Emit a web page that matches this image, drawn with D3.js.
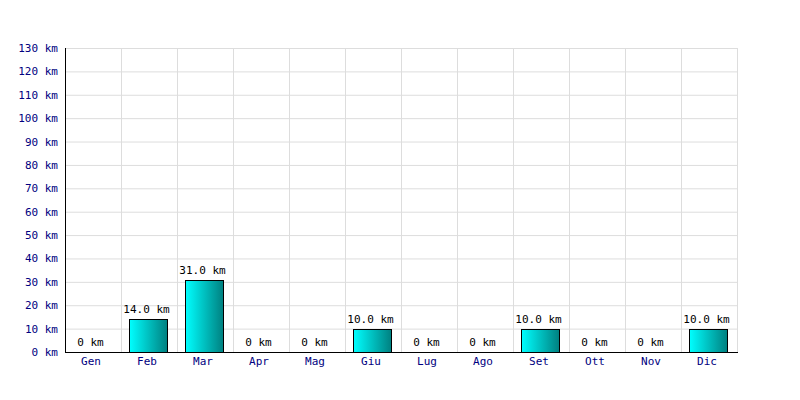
<!DOCTYPE html>
<html><head><meta charset="utf-8">
<script src="https://cdn.jsdelivr.net/npm/d3@7"></script>
<style>body{margin:0;background:#fff}svg{display:block}</style>
</head><body>
<script>
const months = ["Gen","Feb","Mar","Apr","Mag","Giu","Lug","Ago","Set","Ott","Nov","Dic"];
const km = [0,14,31,0,0,10,0,0,10,0,0,10];
const yTicks = [0,10,20,30,40,50,60,70,80,90,100,110,120,130];

const W=800,H=400, L=65, R=737, T=48, B=352;
const svg=d3.select("body").append("svg").attr("width",W).attr("height",H);
const defs=svg.append("defs");
const g=defs.append("linearGradient").attr("id","grad").attr("x1","0").attr("x2","1").attr("y1","0").attr("y2","0");
g.append("stop").attr("offset","0%").attr("stop-color","#00ffff");
g.append("stop").attr("offset","100%").attr("stop-color","#008080");

const x=d3.scaleBand().domain(months).range([L,R]);
const y=d3.scaleLinear().domain([0,130]).range([B,T]);
const font="'DejaVu Sans Mono', monospace";

// grid
svg.append("g").selectAll("line").data(yTicks).join("line")
 .attr("x1",L).attr("x2",R).attr("y1",d=>y(d)+0.5).attr("y2",d=>y(d)+0.5)
 .attr("stroke","#dddddd");
svg.append("g").selectAll("line").data(months).join("line")
 .attr("x1",d=>x(d)+x.bandwidth()+0.5).attr("x2",d=>x(d)+x.bandwidth()+0.5)
 .attr("y1",T).attr("y2",B).attr("stroke","#dddddd");

// bars
const bw=38, off=8;
svg.append("g").selectAll("rect").data(months.map((m,i)=>({m,v:km[i]})).filter(d=>d.v>0)).join("rect")
 .attr("x",d=>x(d.m)+off+0.5).attr("width",bw)
 .attr("y",d=>Math.round(y(d.v))+0.5).attr("height",d=>B-Math.round(y(d.v)))
 .attr("fill","url(#grad)").attr("stroke","#000").attr("stroke-width",1);

// value labels
svg.append("g").selectAll("text").data(months.map((m,i)=>({m,v:km[i]}))).join("text")
 .attr("x",d=>x(d.m)+off+bw/2-1.5).attr("y",d=>y(d.v)-6)
 .attr("text-anchor","middle").attr("font-family",font).attr("font-size",11).attr("fill","#000")
 .text(d=>d.v===0?"0 km":d.v.toFixed(1)+" km");

// y axis
const ya=svg.append("g").attr("transform",`translate(${L},0)`)
 .call(d3.axisLeft(y).tickValues(yTicks).tickSize(0).tickPadding(7).tickFormat(d=>d+" km"));
ya.select(".domain").remove();
ya.selectAll("text").attr("font-family",font).attr("font-size",11).attr("fill","#000080");

// x axis
const xa=svg.append("g").attr("transform",`translate(-2,${B})`)
 .call(d3.axisBottom(x).tickSize(0).tickPadding(5));
xa.select(".domain").remove();
xa.selectAll("text").attr("font-family",font).attr("font-size",11).attr("fill","#000080");

// axis lines
svg.append("line").attr("x1",L+0.5).attr("x2",L+0.5).attr("y1",T).attr("y2",B+1).attr("stroke","#000");
svg.append("line").attr("x1",L).attr("x2",R+1).attr("y1",B+0.5).attr("y2",B+0.5).attr("stroke","#000");
</script>
</body></html>
